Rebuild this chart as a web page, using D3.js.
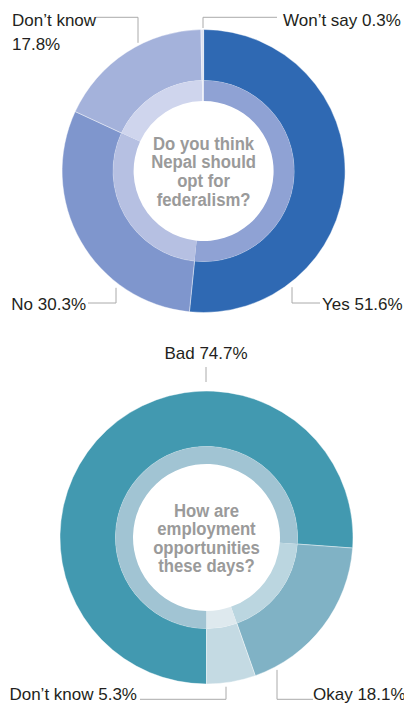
<!DOCTYPE html>
<html>
<head>
<meta charset="utf-8">
<script src="https://cdn.jsdelivr.net/npm/d3@7"></script>
<style>
  body { margin: 0; background: #fff; }
  svg { display: block; font-family: "Liberation Sans", Arial, sans-serif; }
</style>
</head>
<body>
<div id="wrapper"></div>
<script>
// data
const fedLabels = ["Yes", "No", "Don’t know", "Won’t say"];
const fedValues = [51.6, 30.3, 17.8, 0.3];
const fedQuestion = ["Do you think", "Nepal should", "opt for", "federalism?"];

const jobLabels = ["Bad", "Okay", "Don’t know"];
const jobValues = [74.7, 18.1, 5.3];
const jobQuestion = ["How are", "employment", "opportunities", "these days?"];

// styles
const fedOuter = ["#2f69b3", "#7f96cd", "#a4b2db", "#dde2f1"];
const fedInner = ["#8fa2d4", "#b6c0e2", "#cfd5ed", "#eef0f8"];
const jobOuter = ["#4299b0", "#80b2c5", "#c4dae3"];
const jobInner = ["#a1c4d3", "#bbd6e0", "#dee9ee"];

const width = 404;
const height = 708;

const svg = d3.select("#wrapper")
  .append("svg")
  .attr("width", width)
  .attr("height", height);

function drawDonut(opts) {
  const g = svg.append("g")
    .attr("transform", `translate(${opts.cx},${opts.cy})`);

  const pie = d3.pie()
    .sort(null)
    .value(d => d)
    .startAngle(opts.start)
    .endAngle(opts.start + 2 * Math.PI);
  const arcs = pie(opts.values);

  const outerArc = d3.arc().innerRadius(opts.mid).outerRadius(opts.r);
  const innerArc = d3.arc().innerRadius(opts.inner).outerRadius(opts.mid);

  g.selectAll("path.outer")
    .data(arcs)
    .join("path")
    .attr("class", "outer")
    .attr("d", outerArc)
    .attr("fill", (d, i) => opts.outer[i])
    .attr("stroke", "#fff")
    .attr("stroke-width", 0.4);

  g.selectAll("path.inner")
    .data(arcs)
    .join("path")
    .attr("class", "inner")
    .attr("d", innerArc)
    .attr("fill", (d, i) => opts.innerCol[i]);

  // question in the middle
  const lh = opts.lineHeight;
  g.selectAll("text.q")
    .data(opts.question)
    .join("text")
    .attr("class", "q")
    .attr("transform", (d, i) =>
      `translate(0,${(i - (opts.question.length - 1) / 2) * lh + 6.8}) scale(0.88,1)`)
    .attr("text-anchor", "middle")
    .attr("font-size", 19)
    .attr("font-weight", "bold")
    .attr("fill", "#9a9a9a")
    .text(d => d);

  // leaders and labels
  opts.leaders.forEach((l, i) => {
    const rr = opts.r + l.gap;
    const y0 = l.side * Math.sqrt(rr * rr - l.dx * l.dx);
    const pts = [[l.dx, y0], [l.dx, l.elbowY], [l.endX, l.elbowY]];
    g.append("path")
      .attr("d", d3.line()(pts))
      .attr("fill", "none")
      .attr("stroke", "#aaaaaa")
      .attr("stroke-width", 1);

    const value = opts.values[i];
    const txt = l.split
      ? [opts.labels[i], `${value}%`]
      : [`${opts.labels[i]} ${value}%`];
    const t = g.append("text")
      .attr("x", l.textX)
      .attr("y", l.textY)
      .attr("text-anchor", l.anchor)
      .attr("font-size", 17)
      .attr("fill", "#231f20");
    txt.forEach((s, j) => {
      t.append("tspan")
        .attr("x", l.textX)
        .attr("dy", j === 0 ? 0 : 24)
        .text(s);
    });
  });
}

drawDonut({
  cx: 203.6, cy: 171, r: 141.5, mid: 90.5, inner: 70,
  start: 0, lineHeight: 18.8,
  values: fedValues, labels: fedLabels, question: fedQuestion,
  outer: fedOuter, innerCol: fedInner,
  leaders: [
    { dx: 88.4, side: 1, gap: 4.5, elbowY: 132, endX: 116.4, textX: 118.4, textY: 139, anchor: "start" },
    { dx: -87.6, side: 1, gap: 4.5, elbowY: 132, endX: -115.6, textX: -117.6, textY: 139, anchor: "end" },
    { dx: -65.6, side: -1, gap: 2.5, elbowY: -153.7, endX: -107.6, textX: -191.6, textY: -145, anchor: "start", split: true },
    { dx: -0.6, side: -1, gap: 1.5, elbowY: -153.7, endX: 73.4, textX: 79.4, textY: -145, anchor: "start" }
  ]
});

drawDonut({
  cx: 206.5, cy: 537.5, r: 146.5, mid: 91, inner: 73.5,
  start: Math.PI, lineHeight: 18.5,
  values: jobValues, labels: jobLabels, question: jobQuestion,
  outer: jobOuter, innerCol: jobInner,
  leaders: [
    { dx: -0.5, side: -1, gap: 9, elbowY: -170.5, endX: -0.5, textX: -0.5, textY: -178.5, anchor: "middle" },
    { dx: 70.5, side: 1, gap: 3.5, elbowY: 161.8, endX: 106.5, textX: 106.5, textY: 162.5, anchor: "start" },
    { dx: 19.5, side: 1, gap: 4, elbowY: 161.8, endX: -66.5, textX: -69.5, textY: 162.5, anchor: "end" }
  ]
});
</script>
</body>
</html>
